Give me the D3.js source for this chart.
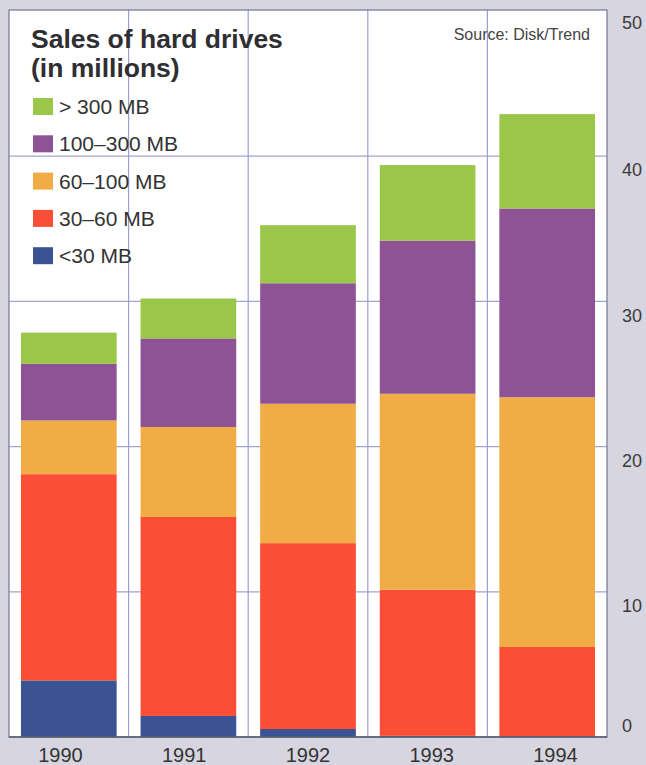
<!DOCTYPE html>
<html><head><meta charset="utf-8">
<script src="https://cdn.jsdelivr.net/npm/d3@7"></script>
<style>
body{margin:0;background:#d7d6e0;}
svg{display:block;font-family:"Liberation Sans",Arial,Helvetica,sans-serif;}
</style>
</head><body><svg id="c" width="646" height="765"></svg>
<script>
// ---- data ----
const years = ["1990", "1991", "1992", "1993", "1994"];
const seriesNames = ["<30 MB", "30–60 MB", "60–100 MB", "100–300 MB", "> 300 MB"];
const under30 = [3.9, 1.45, 0.55, 0.08, 0];
const mb30to60 = [14.2, 13.7, 12.8, 10.06, 6.2];
const mb60to100 = [3.7, 6.2, 9.6, 13.5, 17.2];
const mb100to300 = [3.9, 6.1, 8.3, 10.55, 13.0];
const over300 = [2.15, 2.75, 4.0, 5.2, 6.5];
const yTicks = [0, 10, 20, 30, 40, 50];
const colors = ["#3b5293", "#fb4e36", "#f1ac46", "#8d5394", "#9ac64a"];

(function () {
const seriesValues = [under30, mb30to60, mb60to100, mb100to300, over300];
const table = years.map((yr, i) => {
  const row = {year: yr};
  seriesNames.forEach((s, k) => row[s] = seriesValues[k][i]);
  return row;
});

const svg = d3.select("#c");
const pL = 9, pR = 607, pT = 11, pB = 737;

svg.append("rect").attr("x", 0).attr("y", 0).attr("width", 646).attr("height", 765).attr("fill", "#d7d6e0");
svg.append("rect").attr("x", pL).attr("y", pT - 1).attr("width", pR - pL).attr("height", pB - pT + 1).attr("fill", "#ffffff");

const x = d3.scaleBand().domain(years).range([pL, pR]).paddingInner(0.2).paddingOuter(0.1);
const y = d3.scaleLinear().domain([0, 50]).range([pB, pT]);
// year labels are spread slightly wider than the bars in the original
const xLabel = d3.scalePoint().domain(years).range([60, 555]);

// gridlines
const step = x.step();
const vLines = d3.range(years.length + 1).map(i => pL + i * step);
svg.append("g").selectAll("line").data(yTicks.filter(t => t > 0 && t < 50)).join("line")
  .attr("x1", pL).attr("x2", pR).attr("y1", d => y(d)).attr("y2", d => y(d))
  .attr("stroke", "#a3a5cf").attr("stroke-width", 1.2);
svg.append("g").selectAll("line").data(vLines.slice(1, -1)).join("line")
  .attr("x1", d => d).attr("x2", d => d).attr("y1", pT - 1).attr("y2", pB)
  .attr("stroke", "#9d9fcc").attr("stroke-width", 1.2);

// bars
const stack = d3.stack().keys(seriesNames)(table);
svg.append("g").selectAll("g").data(stack).join("g")
  .attr("fill", (d, i) => colors[i])
  .selectAll("rect").data(d => d).join("rect")
  .attr("x", d => x(d.data.year))
  .attr("width", x.bandwidth())
  .attr("y", d => y(d[1]))
  .attr("height", d => Math.max(0, y(d[0]) - y(d[1])));

// panel border
svg.append("rect").attr("x", pL).attr("y", pT - 1).attr("width", pR - pL).attr("height", pB - pT + 1)
  .attr("fill", "none").attr("stroke", "#7b7e9c").attr("stroke-width", 1.3);
svg.append("line").attr("x1", pL).attr("x2", pR).attr("y1", pB).attr("y2", pB)
  .attr("stroke", "#55586e").attr("stroke-width", 1.5);

// right axis
const yAxis = d3.axisRight(y).tickValues(yTicks).tickSize(0).tickPadding(15);
const ga = svg.append("g").attr("transform", `translate(${pR},0)`).call(yAxis);
ga.select(".domain").remove();
ga.selectAll("text").attr("font-size", 18).attr("fill", "#3a3a3a")
  .attr("font-family", "Liberation Sans, Arial, sans-serif")
  .attr("dy", d => d === 0 ? "-0.33em" : d === 50 ? "0.95em" : "1.1em");

// bottom axis (year labels)
const xAxis = d3.axisBottom(xLabel).tickSize(0).tickPadding(11);
const gx = svg.append("g").attr("transform", `translate(0,${pB})`).call(xAxis);
gx.select(".domain").remove();
gx.selectAll("text").attr("font-size", 20).attr("fill", "#333")
  .attr("font-family", "Liberation Sans, Arial, sans-serif");

// title
svg.append("text").attr("x", 31).attr("y", 48).attr("font-size", 26.5).attr("font-weight", "bold").attr("fill", "#2e2e33")
  .text("Sales of hard drives");
svg.append("text").attr("x", 31).attr("y", 77).attr("font-size", 26.5).attr("font-weight", "bold").attr("fill", "#2e2e33")
  .text("(in millions)");
svg.append("text").attr("x", 590).attr("y", 40).attr("font-size", 16).attr("text-anchor", "end").attr("fill", "#444")
  .text("Source: Disk/Trend");

// legend
const legendOrder = seriesNames.map((s, i) => ({name: s, color: colors[i]})).reverse();
const lg = svg.append("g").selectAll("g").data(legendOrder).join("g")
  .attr("transform", (d, i) => `translate(33,${98 + i * 37.3})`);
lg.append("rect").attr("width", 20).attr("height", 17).attr("fill", d => d.color);
lg.append("text").attr("x", 26).attr("y", 16).attr("font-size", 21).attr("fill", "#333").text(d => d.name);
})();
</script>
</body></html>
